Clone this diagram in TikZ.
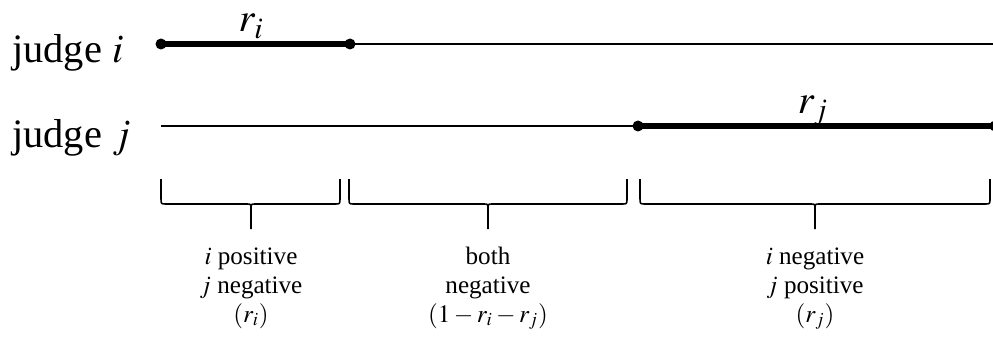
\documentclass[tikz,border=0pt]{standalone}
\usepackage{mathptmx}
\usepackage{fontspec}
\setmainfont{Liberation Serif}
\usetikzlibrary{positioning}

\begin{document}
\begin{tikzpicture}[
  x=0.02cm, y=-0.02cm,
  judge/.style={font=\fontsize{23pt}{27pt}\selectfont, anchor=base west, inner sep=0pt},
  share/.style={font=\fontsize{23pt}{27pt}\selectfont, anchor=base, inner sep=0pt},
  dot/.style={circle, fill=black, inner sep=0pt, minimum size=0.22cm},
  thinline/.style={line width=1.5pt},
  thickline/.style={line width=3.3pt},
  brace/.style={line width=0.9pt, line join=round},
  case/.style={font=\fontsize{14.3pt}{16.3pt}\selectfont, align=center, anchor=base, inner sep=0pt},
]
\useasboundingbox (0,0) rectangle (993,348);

% ---- row labels
\node[judge] (labI) at (12,63)  {judge $i$};
\node[judge] (labJ) at (12,147) {judge $j$};

% ---- judge i
\node[dot] (i0) at (161,44) {};
\node[dot] (i1) at (350,44) {};
\coordinate (i2) at (993,44);
\draw[thickline] (i0.center) -- (i1.center);
\draw[thinline] (i1.center) -- (i2);
\node[share] (ri) at (251,32) {$r_i$};

% ---- judge j
\coordinate (j0) at (161,126);
\node[dot] (j1) at (638,126) {};
\node[dot] (j2) at (995,126) {};
\draw[thinline] (j0) -- (j1.center);
\draw[thickline] (j1.center) -- (j2.center);
\node[share] (rj) at (813,113) {$r_j$};

% ---- braces under the three parts
\foreach \a/\b/\m in {161/340/251, 349/627/488, 640/990/815}{
  \draw[brace] (\a,179) -- (\a,198) .. controls (\a,204) .. ({\a+5},204) -- ({\m-4},204)
    .. controls (\m,204) .. (\m,210) -- (\m,229);
  \draw[brace] (\m,210) .. controls (\m,204) .. ({\m+4},204) -- ({\b-5},204)
    .. controls (\b,204) .. (\b,198) -- (\b,179);
}

% ---- what each part means (placed by the baseline of the last line)
\node[case] (pn) at (251,322) {$i$ positive\\$j$ negative\\$(r_i)$};
\node[case] (nn) at (488,322) {both\\negative\\$(1-r_i-r_j)$};
\node[case] (np) at (815,322) {$i$ negative\\$j$ positive\\$(r_j)$};
\end{tikzpicture}
\end{document}
